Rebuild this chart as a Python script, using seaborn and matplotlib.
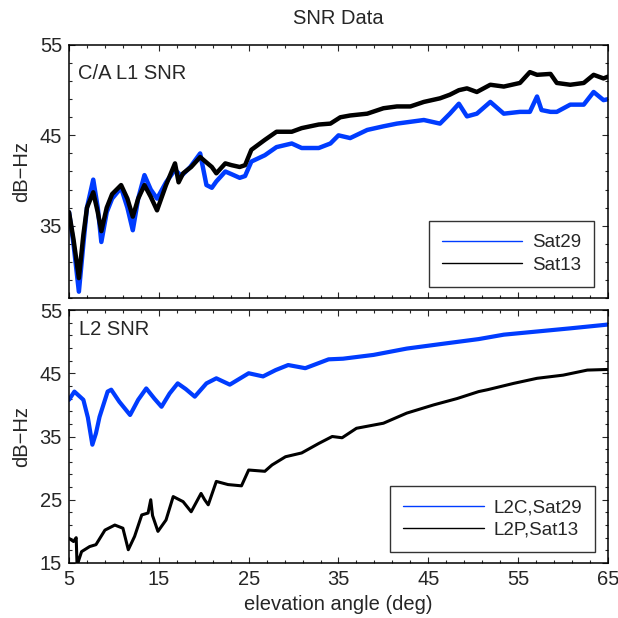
import numpy as np
import pandas as pd
import matplotlib
matplotlib.use("Agg")
import matplotlib.pyplot as plt
from matplotlib.lines import Line2D
import seaborn as sns

# values (elevation deg, SNR dB-Hz)
l1_sat29_elev = [5.0, 5.5, 6.1, 6.6, 7.0, 7.7, 8.2, 8.6, 9.2, 9.8, 10.8, 11.5, 12.1, 12.7, 13.4, 14.1,
                 14.8, 15.8, 16.8, 17.5, 18.5, 19.6, 20.0, 20.3, 20.9, 21.4, 22.4, 23.1, 24.0, 24.6,
                 25.3, 26.8, 28.1, 29.8, 30.9, 32.8, 34.1, 35.0, 36.3, 38.2, 40.0, 41.5, 43.0, 44.5,
                 46.3, 47.4, 48.4, 49.3, 50.4, 51.9, 53.4, 55.2, 56.3, 57.1, 57.6, 58.6, 59.3, 60.8,
                 62.3, 63.4, 64.5, 65.0]
l1_sat29_snr = [36.5, 33.0, 27.7, 33.0, 37.0, 40.1, 37.0, 33.2, 36.5, 38.0, 39.2, 37.0, 34.5, 38.0, 40.6, 39.0,
                38.0, 39.8, 41.2, 40.5, 41.5, 43.0, 41.0, 39.5, 39.2, 39.9, 41.0, 40.7, 40.3, 40.5,
                42.1, 42.8, 43.7, 44.1, 43.6, 43.6, 44.1, 45.0, 44.7, 45.6, 46.0, 46.3, 46.5, 46.7,
                46.3, 47.4, 48.5, 47.1, 47.4, 48.7, 47.4, 47.6, 47.6, 49.3, 47.8, 47.6, 47.6, 48.4,
                48.4, 49.8, 48.9, 49.0]

l1_sat13_elev = [5.0, 5.5, 6.1, 6.6, 7.0, 7.7, 8.2, 8.6, 9.2, 9.8, 10.8, 11.5, 12.1, 12.7, 13.4, 14.1,
                 14.8, 15.8, 16.8, 17.2, 17.7, 18.6, 19.6, 20.3, 20.9, 21.4, 22.4, 23.1, 24.0, 24.6,
                 25.3, 26.8, 28.1, 29.8, 30.9, 32.8, 34.1, 35.2, 36.3, 38.2, 40.0, 41.5, 43.0, 44.5,
                 46.3, 47.4, 48.4, 49.3, 50.4, 51.9, 53.4, 55.2, 56.3, 57.1, 58.6, 59.3, 60.8, 62.3,
                 63.4, 64.5, 65.0]
l1_sat13_snr = [36.5, 33.5, 29.2, 34.0, 37.0, 38.7, 36.5, 34.4, 37.0, 38.5, 39.5, 38.0, 36.0, 38.0, 39.5, 38.2,
                36.7, 39.5, 41.9, 39.8, 40.8, 41.5, 42.6, 42.0, 41.5, 40.8, 41.9, 41.7, 41.5, 41.7,
                43.4, 44.5, 45.4, 45.4, 45.8, 46.2, 46.3, 47.0, 47.2, 47.4, 48.0, 48.2, 48.2, 48.7,
                49.1, 49.5, 50.0, 50.2, 49.8, 50.6, 50.4, 50.8, 52.0, 51.7, 51.8, 50.8, 50.6, 50.8,
                51.7, 51.3, 51.5]

l2c_sat29_elev = [5.0, 5.6, 6.6, 7.1, 7.6, 8.0, 8.4, 9.3, 9.7, 10.6, 11.8, 12.7, 13.6, 14.5, 15.3, 16.2,
                  17.1, 18.0, 19.0, 20.3, 21.4, 22.9, 25.0, 26.6, 28.0, 29.4, 31.3, 33.9, 35.5, 38.9,
                  42.6, 46.3, 50.6, 53.4, 57.1, 60.8, 65.0]
l2c_sat29_snr = [40.8, 42.1, 40.8, 38.0, 33.7, 35.5, 38.1, 42.1, 42.4, 40.5, 38.4, 40.8, 42.6, 41.0, 39.7, 41.8,
                 43.4, 42.5, 41.3, 43.4, 44.2, 43.2, 45.0, 44.5, 45.5, 46.3, 45.8, 47.2, 47.3, 47.9,
                 48.9, 49.6, 50.4, 51.1, 51.6, 52.1, 52.7]

l2p_sat13_elev = [5.0, 5.5, 5.8, 5.9, 6.1, 6.4, 7.3, 8.0, 9.0, 10.1, 11.0, 11.6, 12.3, 13.1, 13.8, 14.1,
                  14.3, 14.9, 15.8, 16.6, 17.7, 18.6, 19.7, 20.1, 20.5, 21.4, 22.7, 24.2, 25.0, 26.8,
                  27.6, 29.1, 30.9, 32.8, 34.3, 35.4, 37.0, 40.0, 42.6, 45.6, 48.2, 50.6, 51.6, 54.5,
                  57.1, 60.0, 62.7, 65.0]
l2p_sat13_snr = [18.9, 18.4, 19.0, 14.5, 15.5, 16.8, 17.6, 17.9, 20.2, 21.0, 20.5, 17.1, 19.2, 22.6, 22.9, 25.0,
                 22.5, 20.0, 21.8, 25.5, 24.7, 23.1, 26.0, 25.0, 24.2, 27.9, 27.4, 27.2, 29.7, 29.5,
                 30.5, 31.8, 32.4, 33.9, 35.0, 34.8, 36.3, 37.1, 38.7, 40.0, 41.0, 42.1, 42.4, 43.4,
                 44.2, 44.7, 45.5, 45.6]

BLUE = "#003cff"
BLACK = "#000000"

sns.set_style("ticks")
plt.rcParams['font.family'] = ['Liberation Sans', 'DejaVu Sans']
plt.rcParams['font.size'] = 14.5
plt.rcParams['axes.linewidth'] = 1.1

fig = plt.figure(figsize=(6.18, 6.18), dpi=100)
ax1 = fig.add_axes([69/618, 1-298/618, 539/618, 253/618])
ax2 = fig.add_axes([69/618, 1-563/618, 539/618, 253/618])

def draw(ax, elev, snr, color, lw):
    df = pd.DataFrame({'elev': elev, 'snr': snr})
    sns.lineplot(data=df, x='elev', y='snr', ax=ax, color=color, lw=lw, estimator=None)

# thick strokes stand in for the noisy band of the raw SNR traces
draw(ax1, l1_sat29_elev, l1_sat29_snr, BLUE, 3.2)
draw(ax1, l1_sat13_elev, l1_sat13_snr, BLACK, 3.2)
draw(ax2, l2c_sat29_elev, l2c_sat29_snr, BLUE, 3.0)
draw(ax2, l2p_sat13_elev, l2p_sat13_snr, BLACK, 2.2)

for ax in (ax1, ax2):
    ax.set_xlim(5, 65)
    ax.set_xticks(range(5, 66, 10))
    ax.set_xticks(np.arange(5, 66, 2), minor=True)
    ax.tick_params(which='both', direction='in', top=True, right=True, width=0.8)
    ax.tick_params(which='major', length=4, pad=5)
    ax.tick_params(which='minor', length=2.5)
    ax.set_ylabel('dB\u2212Hz', labelpad=6)
    for s in ax.spines.values():
        s.set_color('black')

ax1.set_ylim(27, 55)
ax1.set_yticks([35, 45, 55])
ax1.set_yticks(np.arange(27, 56, 2), minor=True)
ax1.set_xlabel('')
ax1.tick_params(labelbottom=False)

ax2.set_ylim(15, 55)
ax2.set_yticks([15, 25, 35, 45, 55])
ax2.set_yticks(np.arange(15, 56, 2), minor=True)
ax2.set_xlabel('elevation angle (deg)', labelpad=4)

ax1.text(0.017, 0.889, 'C/A L1 SNR', transform=ax1.transAxes, va='center', ha='left')
ax2.text(0.019, 0.921, 'L2 SNR', transform=ax2.transAxes, va='center', ha='left')
fig.text(338/618, 1-18/618, 'SNR Data', ha='center', va='center')

leg_kw = dict(loc='lower right', borderaxespad=0, handlelength=4.3, handletextpad=0.5,
              borderpad=0.7, labelspacing=0.3, fancybox=False, fontsize=13.5)
h1 = [Line2D([], [], color=BLUE, lw=1), Line2D([], [], color=BLACK, lw=1)]
lg1 = ax1.legend(h1, ['Sat29', 'Sat13'], bbox_to_anchor=(0.974, 0.043), **leg_kw)
lg2 = ax2.legend(h1, ['L2C,Sat29', 'L2P,Sat13'], bbox_to_anchor=(0.976, 0.043), **leg_kw)
for lg in (lg1, lg2):
    lg.get_frame().set_edgecolor('black')
    lg.get_frame().set_linewidth(1.0)

fig.savefig('out.png', dpi=100)
